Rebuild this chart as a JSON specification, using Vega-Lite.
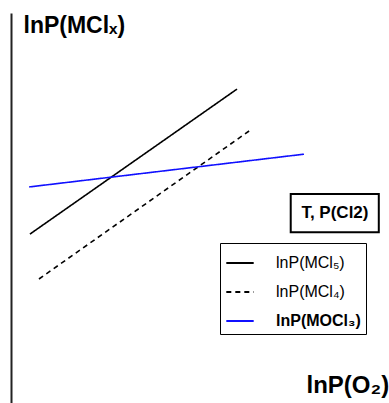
{
  "$schema": "https://vega.github.io/schema/vega-lite/v6.json",
  "autosize": "none",
  "width": 378,
  "height": 390,
  "padding": {"left": 11, "top": 13, "right": 0, "bottom": 0},
  "background": "white",
  "config": {"view": {"stroke": null}, "font": "Liberation Sans"},
  "datasets": {
    "lines": [
      {"series": "lnP(MCl₅)", "lnPO": 5.0, "lnPM": 43.3},
      {"series": "lnP(MCl₅)", "lnPO": 59.8, "lnPM": 80.5},
      {"series": "lnP(MCl₄)", "lnPO": 7.4, "lnPM": 31.8},
      {"series": "lnP(MCl₄)", "lnPO": 63.8, "lnPM": 70.3},
      {"series": "lnP(MOCl₃)", "lnPO": 4.8, "lnPM": 55.4},
      {"series": "lnP(MOCl₃)", "lnPO": 77.5, "lnPM": 63.8}
    ],
    "note": [
      {"label": "T, P(Cl2)", "left": 74.0, "right": 97.3, "bottom": 43.8, "top": 53.6, "xc": 85.7, "yc": 48.7}
    ]
  },
  "layer": [
    {
      "data": {"name": "lines"},
      "mark": {"type": "line", "strokeWidth": 1.6},
      "encoding": {
        "x": {"field": "lnPO", "type": "quantitative", "scale": {"domain": [0, 100]},
          "axis": {"domain": false, "ticks": false, "labels": false, "grid": false,
            "title": "lnP(O₂)", "titleFontSize": 24, "titleFontWeight": "bold", "titleColor": "black",
            "titleAlign": "left", "titleAnchor": null, "titleX": 295, "titleY": -11, "titleBaseline": "alphabetic"}},
        "y": {"field": "lnPM", "type": "quantitative", "scale": {"domain": [0, 100]},
          "axis": {"domain": true, "domainColor": "#222", "domainWidth": 2, "ticks": false, "labels": false, "grid": false,
            "title": "lnP(MClₓ)", "titleAngle": 0, "titleFontSize": 23, "titleFontWeight": "bold", "titleColor": "black",
            "titleAlign": "left", "titleAnchor": null, "titleX": 12, "titleY": 19, "titleBaseline": "alphabetic"}},
        "color": {"field": "series", "type": "nominal",
          "scale": {"domain": ["lnP(MCl₅)", "lnP(MCl₄)", "lnP(MOCl₃)"], "range": ["black", "black", "#1010ff"]},
          "legend": {"orient": "none", "legendX": 209, "legendY": 230, "title": null,
            "strokeColor": "black", "padding": 5, "symbolType": "stroke", "symbolSize": 750,
            "symbolStrokeWidth": 2, "labelFontSize": 16, "labelOffset": 21, "rowPadding": 6, "labelColor": "black",
            "labelFontWeight": {"expr": "datum.value == 'lnP(MOCl₃)' ? 'bold' : 'normal'"}}},
        "strokeDash": {"field": "series", "type": "nominal",
          "scale": {"domain": ["lnP(MCl₅)", "lnP(MCl₄)", "lnP(MOCl₃)"], "range": [[1, 0], [5, 4], [1, 0]]},
          "legend": {"orient": "none", "legendX": 209, "legendY": 230, "title": null}}
      }
    },
    {
      "data": {"name": "note"},
      "mark": {"type": "rect", "fill": "white", "stroke": "black", "strokeWidth": 2},
      "encoding": {
        "x": {"field": "left", "type": "quantitative"},
        "x2": {"field": "right"},
        "y": {"field": "bottom", "type": "quantitative"},
        "y2": {"field": "top"}
      }
    },
    {
      "data": {"name": "note"},
      "mark": {"type": "text", "fontSize": 17, "fontWeight": "bold", "color": "black", "align": "center", "baseline": "middle"},
      "encoding": {
        "x": {"field": "xc", "type": "quantitative"},
        "y": {"field": "yc", "type": "quantitative"},
        "text": {"field": "label"}
      }
    }
  ]
}
